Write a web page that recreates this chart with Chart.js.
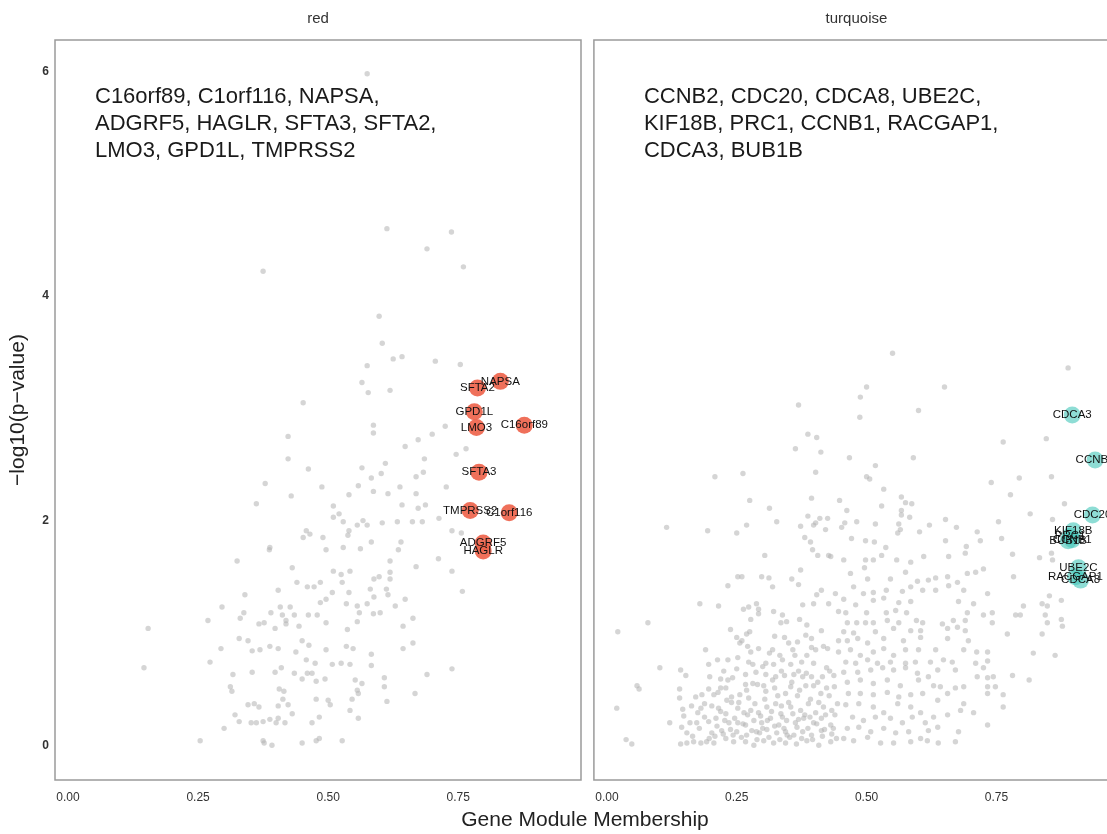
<!DOCTYPE html>
<html>
<head>
<meta charset="utf-8">
<title>Gene module membership vs significance</title>
<script src="https://cdn.jsdelivr.net/npm/chart.js@4.4.1/dist/chart.umd.min.js"></script>
<style>
  html, body { margin: 0; padding: 0; background: #fff; width: 1107px; height: 834px; overflow: hidden; }
  canvas { position: absolute; top: 0; }
  #redPanel { left: 0; }
  #turquoisePanel { left: 585px; }
  #xTitle {
    position: absolute; left: 385px; width: 400px; top: 807px;
    text-align: center; font: 21px "Liberation Sans", Arial, sans-serif; color: #222;
  }
</style>
</head>
<body>
<canvas id="redPanel" width="590" height="834"></canvas>
<canvas id="turquoisePanel" width="545" height="834"></canvas>
<div id="xTitle">Gene Module Membership</div>

<script>
// Shared facet scales
const mmRange = [-0.025, 0.986];
const logPRange = [-0.31, 6.28];
const mmTicks = [0, 0.25, 0.5, 0.75];
const mmTickLabels = ['0.00', '0.25', '0.50', '0.75'];
const logPTicks = [0, 2, 4, 6];
const logPTickLabels = ['0', '2', '4', '6'];

// red module: top hub genes
const redGenes = ['NAPSA', 'SFTA2', 'GPD1L', 'LMO3', 'C16orf89', 'SFTA3', 'TMPRSS2', 'C1orf116', 'ADGRF5', 'HAGLR'];
const redGeneMM = [0.831, 0.787, 0.781, 0.785, 0.877, 0.790, 0.773, 0.848, 0.798, 0.798];
const redGeneLogP = [3.24, 3.18, 2.97, 2.83, 2.85, 2.43, 2.09, 2.07, 1.80, 1.73];
const redNote = ['C16orf89, C1orf116, NAPSA,', 'ADGRF5, HAGLR, SFTA3, SFTA2,', 'LMO3, GPD1L, TMPRSS2'];

// turquoise module: top hub genes
const turqGenes = ['CDCA3', 'CCNB2', 'CDC20', 'KIF18B', 'PRC1', 'CCNB1', 'BUB1B', 'UBE2C', 'RACGAP1', 'CDCA8'];
const turqGeneMM = [0.896, 0.940, 0.935, 0.898, 0.892, 0.896, 0.888, 0.908, 0.902, 0.912];
const turqGeneLogP = [2.94, 2.54, 2.05, 1.91, 1.86, 1.83, 1.82, 1.58, 1.50, 1.47];
const turqNote = ['CCNB2, CDC20, CDCA8, UBE2C,', 'KIF18B, PRC1, CCNB1, RACGAP1,', 'CDCA3, BUB1B'];

// remaining genes of each module [membership, -log10 p]
const redOther = [
  [0.575,5.98],[0.613,4.60],[0.737,4.57],[0.690,4.42],[0.760,4.26],[0.375,4.22],[0.598,3.82],[0.604,3.58],
  [0.625,3.44],[0.642,3.46],[0.575,3.38],[0.706,3.42],[0.754,3.39],[0.565,3.23],[0.619,3.16],[0.577,3.14],
  [0.452,3.05],[0.587,2.85],[0.587,2.78],[0.725,2.84],[0.700,2.77],[0.673,2.72],[0.648,2.66],[0.685,2.55],
  [0.746,2.59],[0.765,2.64],[0.610,2.51],[0.565,2.47],[0.462,2.46],[0.602,2.42],[0.583,2.38],[0.683,2.43],
  [0.669,2.39],[0.423,2.75],[0.423,2.55],[0.379,2.33],[0.429,2.22],[0.362,2.15],[0.388,1.76],[0.387,1.74],
  [0.325,1.64],[0.431,1.58],[0.440,1.45],[0.404,1.38],[0.340,1.34],[0.296,1.23],[0.408,1.23],[0.427,1.23],
  [0.338,1.18],[0.390,1.18],[0.269,1.11],[0.331,1.13],[0.412,1.16],[0.435,1.16],[0.419,1.11],[0.419,1.08],
  [0.367,1.08],[0.377,1.09],[0.398,1.04],[0.444,1.06],[0.154,1.04],[0.329,0.95],[0.346,0.93],[0.294,0.86],
  [0.354,0.84],[0.369,0.85],[0.388,0.88],[0.404,0.86],[0.438,0.83],[0.273,0.74],[0.146,0.69],[0.317,0.63],
  [0.354,0.65],[0.398,0.65],[0.410,0.69],[0.435,0.64],[0.312,0.52],[0.315,0.48],[0.406,0.50],[0.415,0.48],
  [0.413,0.41],[0.346,0.36],[0.358,0.37],[0.367,0.34],[0.404,0.35],[0.423,0.36],[0.431,0.28],[0.321,0.27],
  [0.329,0.21],[0.352,0.20],[0.362,0.20],[0.375,0.21],[0.388,0.23],[0.400,0.20],[0.404,0.24],[0.417,0.20],
  [0.300,0.15],[0.254,0.04],[0.375,0.04],[0.377,0.02],[0.392,0.00],[0.450,0.59],[0.458,1.91],[0.465,1.88],
  [0.488,2.30],[0.540,2.23],[0.558,2.31],[0.587,2.26],[0.615,2.24],[0.638,2.30],[0.669,2.24],[0.727,2.30],
  [0.510,2.13],[0.521,2.06],[0.510,2.03],[0.529,1.99],[0.540,1.91],[0.538,1.87],[0.556,1.96],[0.567,2.00],
  [0.575,1.96],[0.604,1.98],[0.633,1.99],[0.662,1.99],[0.681,1.99],[0.642,2.14],[0.673,2.11],[0.687,2.14],
  [0.713,2.02],[0.738,1.91],[0.756,1.89],[0.452,1.85],[0.490,1.85],[0.583,1.81],[0.640,1.81],[0.496,1.74],
  [0.529,1.76],[0.562,1.75],[0.635,1.74],[0.712,1.66],[0.619,1.64],[0.669,1.59],[0.738,1.55],[0.510,1.55],
  [0.525,1.52],[0.542,1.55],[0.619,1.54],[0.460,1.41],[0.473,1.41],[0.485,1.45],[0.527,1.45],[0.588,1.48],
  [0.598,1.50],[0.619,1.48],[0.581,1.39],[0.612,1.39],[0.615,1.34],[0.588,1.32],[0.508,1.36],[0.540,1.36],
  [0.648,1.30],[0.758,1.37],[0.485,1.27],[0.496,1.30],[0.535,1.26],[0.556,1.24],[0.575,1.26],[0.629,1.24],
  [0.587,1.17],[0.600,1.18],[0.560,1.18],[0.462,1.16],[0.479,1.16],[0.496,1.09],[0.556,1.10],[0.537,1.03],
  [0.644,1.06],[0.663,1.13],[0.450,0.93],[0.463,0.89],[0.496,0.85],[0.535,0.88],[0.548,0.86],[0.583,0.81],
  [0.644,0.86],[0.663,0.91],[0.458,0.76],[0.475,0.73],[0.508,0.72],[0.525,0.73],[0.542,0.72],[0.583,0.71],
  [0.460,0.64],[0.469,0.64],[0.477,0.57],[0.494,0.59],[0.552,0.58],[0.565,0.55],[0.608,0.60],[0.690,0.63],
  [0.738,0.68],[0.556,0.49],[0.558,0.46],[0.608,0.52],[0.667,0.46],[0.477,0.41],[0.500,0.40],[0.504,0.36],
  [0.546,0.41],[0.613,0.39],[0.542,0.31],[0.558,0.24],[0.483,0.25],[0.469,0.20],[0.450,0.02],[0.477,0.04],
  [0.483,0.06],[0.527,0.04]
];

const turqOther = [
  [0.369,3.03],[0.387,2.77],[0.404,2.74],[0.363,2.64],[0.412,2.61],[0.208,2.39],[0.262,2.42],[0.402,2.43],
  [0.394,2.20],[0.275,2.18],[0.448,2.18],[0.313,2.11],[0.387,2.04],[0.410,2.02],[0.425,2.02],[0.327,1.99],
  [0.115,1.94],[0.194,1.91],[0.250,1.89],[0.269,1.96],[0.373,1.95],[0.398,1.96],[0.402,1.98],[0.421,1.92],
  [0.452,1.94],[0.381,1.85],[0.392,1.81],[0.396,1.74],[0.406,1.69],[0.427,1.69],[0.431,1.68],[0.304,1.69],
  [0.373,1.56],[0.252,1.50],[0.260,1.50],[0.298,1.50],[0.312,1.49],[0.356,1.48],
  [0.233,1.42],[0.319,1.41],[0.369,1.43],[0.413,1.38],[0.404,1.34],[0.440,1.35],[0.179,1.26],[0.215,1.24],
  [0.263,1.21],[0.273,1.23],[0.288,1.26],[0.292,1.21],[0.321,1.19],[0.377,1.25],[0.398,1.26],[0.427,1.26],
  [0.446,1.19],[0.079,1.09],[0.021,1.01],[0.277,1.12],[0.292,1.17],[0.338,1.16],[0.346,1.10],[0.335,1.09],
  [0.371,1.12],[0.385,1.07],[0.413,1.02],[0.238,1.03],[0.250,0.96],[0.260,0.93],[0.269,0.99],[0.275,1.01],
  [0.256,0.91],[0.323,0.97],[0.342,0.96],[0.367,0.92],[0.383,0.98],[0.394,0.95],[0.394,0.87],[0.402,0.85],
  [0.417,0.88],[0.425,0.86],[0.446,0.93],[0.277,0.83],[0.292,0.86],[0.319,0.85],[0.333,0.80],[0.358,0.85],
  [0.362,0.80],[0.385,0.80],[0.446,0.83],[0.213,0.76],[0.233,0.76],[0.252,0.78],[0.273,0.74],[0.306,0.73],
  [0.321,0.72],[0.338,0.76],[0.354,0.72],[0.375,0.74],[0.398,0.73],[0.423,0.69],[0.102,0.69],[0.142,0.67],
  [0.152,0.62],[0.198,0.61],[0.219,0.59],[0.233,0.58],[0.242,0.60],[0.267,0.63],[0.287,0.65],[0.306,0.63],
  [0.325,0.61],[0.342,0.62],[0.360,0.63],[0.369,0.66],[0.377,0.61],[0.394,0.61],[0.415,0.61],[0.437,0.62],
  [0.058,0.53],[0.062,0.50],[0.140,0.50],[0.171,0.43],[0.183,0.45],[0.196,0.50],[0.206,0.45],[0.219,0.51],
  [0.229,0.51],[0.240,0.43],[0.267,0.54],[0.269,0.49],[0.290,0.54],[0.302,0.53],[0.306,0.48],[0.323,0.51],
  [0.344,0.46],[0.354,0.52],[0.367,0.44],[0.383,0.53],[0.398,0.53],[0.412,0.46],[0.423,0.51],[0.438,0.52],
  [0.019,0.33],[0.140,0.42],[0.146,0.32],[0.163,0.35],[0.181,0.33],[0.202,0.35],[0.215,0.33],[0.229,0.28],
  [0.240,0.38],[0.254,0.38],[0.273,0.42],[0.277,0.31],[0.292,0.29],[0.308,0.34],[0.325,0.37],[0.335,0.28],
  [0.354,0.34],[0.373,0.31],[0.388,0.37],[0.402,0.29],[0.417,0.34],[0.433,0.31],[0.121,0.20],[0.148,0.26],
  [0.173,0.20],[0.196,0.21],[0.210,0.24],[0.235,0.20],[0.252,0.20],[0.267,0.18],[0.283,0.22],[0.298,0.20],
  [0.315,0.24],[0.331,0.18],[0.346,0.22],[0.363,0.20],[0.379,0.24],[0.398,0.20],[0.413,0.24],[0.431,0.18],
  [0.144,0.16],[0.202,0.11],[0.221,0.13],[0.250,0.12],[0.269,0.09],[0.288,0.12],[0.308,0.14],[0.327,0.11],
  [0.344,0.12],[0.360,0.09],[0.377,0.12],[0.394,0.09],[0.413,0.13],[0.433,0.10],[0.037,0.05],[0.048,0.01],
  [0.142,0.01],[0.154,0.02],[0.167,0.03],[0.181,0.02],[0.192,0.03],[0.206,0.02],[0.229,0.06],[0.244,0.03],
  [0.267,0.03],[0.283,0.00],[0.302,0.04],[0.321,0.02],[0.344,0.02],[0.365,0.01],[0.385,0.04],[0.408,0.00],
  [0.431,0.03],
  [0.165,0.08],[0.178,0.15],[0.188,0.25],[0.197,0.06],[0.212,0.17],[0.219,0.30],[0.224,0.10],[0.231,0.40],
  [0.238,0.14],[0.246,0.24],[0.252,0.33],[0.259,0.07],[0.262,0.19],[0.271,0.27],[0.279,0.13],[0.285,0.37],
  [0.289,0.05],[0.296,0.26],[0.300,0.15],[0.304,0.41],[0.312,0.07],[0.317,0.30],[0.323,0.17],[0.329,0.44],
  [0.333,0.05],[0.338,0.25],[0.341,0.15],[0.350,0.38],[0.352,0.07],[0.358,0.28],[0.366,0.16],[0.371,0.49],
  [0.375,0.06],[0.381,0.27],[0.387,0.15],[0.392,0.41],[0.396,0.05],[0.404,0.19],[0.408,0.38],[0.415,0.08],
  [0.421,0.27],[0.428,0.44],[0.436,0.15],[0.442,0.06],[0.444,0.37],[0.208,0.08],[0.227,0.22],[0.243,0.09],
  [0.256,0.45],[0.264,0.29],[0.281,0.55],[0.294,0.11],[0.309,0.22],[0.319,0.58],[0.336,0.35],[0.347,0.09],
  [0.356,0.56],[0.369,0.23],[0.384,0.64],[0.391,0.25],[0.406,0.56],[0.419,0.14],[0.429,0.66],[0.439,0.27],
  [0.188,0.37],[0.175,0.29],[0.160,0.20],[0.154,0.11],[0.214,0.47],[0.250,0.68],[0.281,0.72],[0.313,0.82],
  [0.350,0.91],[0.300,0.70],[0.336,0.66],[0.271,0.88],[0.225,0.66],[0.196,0.72],[0.190,0.85],
  [0.550,3.49],[0.888,3.36],[0.500,3.19],[0.488,3.10],[0.650,3.19],[0.600,2.98],[0.487,2.92],[0.763,2.70],
  [0.846,2.73],[0.467,2.56],[0.590,2.56],[0.517,2.49],[0.500,2.39],[0.506,2.37],[0.740,2.34],[0.794,2.38],
  [0.856,2.39],[0.533,2.28],[0.777,2.23],[0.567,2.21],[0.575,2.16],[0.587,2.15],[0.529,2.13],[0.462,2.09],
  [0.567,2.09],[0.881,2.15],[0.815,2.06],[0.567,2.05],[0.583,2.03],[0.652,2.01],[0.481,1.99],[0.458,1.98],
  [0.517,1.97],[0.562,1.97],[0.565,1.92],[0.621,1.96],[0.673,1.94],[0.754,1.99],[0.858,2.01],[0.560,1.89],
  [0.602,1.90],[0.713,1.90],[0.760,1.84],[0.471,1.84],[0.498,1.82],[0.515,1.81],[0.652,1.82],[0.719,1.82],
  [0.692,1.77],[0.537,1.76],[0.456,1.65],[0.498,1.65],[0.513,1.65],[0.529,1.69],[0.558,1.65],[0.585,1.63],
  [0.610,1.68],[0.658,1.68],[0.690,1.71],[0.781,1.70],[0.833,1.67],[0.856,1.71],[0.858,1.65],[0.496,1.58],
  [0.725,1.57],
  [0.469,1.53],[0.502,1.48],[0.546,1.48],[0.575,1.54],[0.598,1.46],[0.619,1.47],[0.633,1.49],[0.656,1.50],
  [0.675,1.45],[0.694,1.53],[0.710,1.54],[0.783,1.50],[0.475,1.41],[0.494,1.35],[0.513,1.36],[0.538,1.38],
  [0.569,1.37],[0.585,1.41],[0.608,1.38],[0.633,1.38],[0.658,1.42],[0.687,1.38],[0.733,1.35],[0.852,1.33],
  [0.875,1.29],[0.456,1.30],[0.479,1.25],[0.513,1.29],[0.533,1.31],[0.562,1.27],[0.585,1.28],[0.677,1.28],
  [0.706,1.26],[0.802,1.24],[0.838,1.26],[0.848,1.24],[0.460,1.18],[0.500,1.18],[0.538,1.18],[0.556,1.20],
  [0.577,1.18],[0.694,1.18],[0.725,1.16],[0.742,1.18],[0.787,1.16],[0.796,1.16],[0.844,1.16],[0.875,1.12],
  [0.463,1.09],[0.481,1.09],[0.498,1.09],[0.513,1.09],[0.540,1.11],[0.562,1.09],[0.596,1.11],[0.608,1.09],
  [0.646,1.08],[0.667,1.11],[0.690,1.11],[0.742,1.09],[0.848,1.09],[0.877,1.06],[0.456,1.01],[0.475,1.00],
  [0.517,1.01],[0.552,1.04],[0.585,1.02],[0.604,1.02],[0.656,1.04],[0.675,1.05],[0.690,1.02],[0.771,0.99],
  [0.838,0.99],[0.463,0.93],[0.483,0.95],[0.502,0.91],[0.533,0.95],[0.571,0.93],[0.604,0.96],[0.656,0.95],
  [0.696,0.93],[0.469,0.85],[0.488,0.80],[0.513,0.83],[0.533,0.86],[0.552,0.80],[0.575,0.85],[0.600,0.85],
  [0.633,0.85],[0.648,0.76],[0.665,0.74],[0.687,0.85],[0.712,0.83],[0.733,0.83],[0.821,0.82],[0.863,0.80],
  [0.460,0.74],[0.479,0.73],[0.502,0.76],[0.521,0.73],[0.546,0.74],[0.575,0.73],[0.594,0.74],[0.623,0.74],
  [0.710,0.73],[0.725,0.69],[0.733,0.75],[0.456,0.65],[0.483,0.65],[0.508,0.67],[0.531,0.69],[0.552,0.67],
  [0.575,0.69],[0.598,0.64],[0.619,0.61],[0.637,0.67],[0.671,0.67],[0.713,0.61],[0.733,0.60],[0.744,0.61],
  [0.781,0.62],[0.813,0.58],[0.463,0.56],[0.488,0.58],[0.513,0.55],[0.540,0.58],[0.565,0.53],[0.600,0.58],
  [0.629,0.53],[0.642,0.52],[0.671,0.51],[0.687,0.52],[0.733,0.52],[0.748,0.52],[0.465,0.46],[0.488,0.46],
  [0.513,0.45],[0.540,0.47],[0.562,0.43],[0.585,0.45],[0.608,0.46],[0.637,0.40],[0.656,0.46],[0.687,0.37],
  [0.733,0.46],[0.763,0.45],[0.460,0.36],[0.485,0.37],[0.513,0.34],[0.533,0.29],[0.560,0.37],[0.585,0.34],
  [0.604,0.29],[0.629,0.25],[0.656,0.27],[0.681,0.31],[0.706,0.29],[0.763,0.34],[0.473,0.25],[0.494,0.22],
  [0.517,0.25],[0.546,0.24],[0.569,0.20],[0.588,0.25],[0.613,0.20],[0.637,0.16],[0.733,0.18],[0.463,0.15],
  [0.485,0.16],[0.508,0.12],[0.533,0.15],[0.556,0.11],[0.581,0.12],[0.604,0.06],[0.619,0.13],[0.677,0.12],
  [0.456,0.06],[0.475,0.04],[0.502,0.07],[0.527,0.02],[0.552,0.02],[0.585,0.03],[0.617,0.04],[0.638,0.02],
  [0.671,0.03]
];

const pointsOf = pairs => pairs.map(([x, y]) => ({ x, y }));
const zipPoints = (xs, ys) => xs.map((x, i) => ({ x, y: ys[i] }));

const fontFamily = '"Liberation Sans", Arial, Helvetica, sans-serif';

// frame, strip label, gene list and point labels for one facet
const facetDecor = {
  id: 'facetDecor',
  afterDatasetsDraw(chart, args, opts) {
    const { ctx, chartArea: a } = chart;
    ctx.save();
    ctx.strokeStyle = '#9a9a9a';
    ctx.lineWidth = 1.5;
    ctx.strokeRect(a.left, a.top, a.right - a.left, a.bottom - a.top);

    ctx.fillStyle = '#333';
    ctx.font = '15px ' + fontFamily;
    ctx.textAlign = 'center';
    ctx.textBaseline = 'middle';
    ctx.fillText(opts.strip, (a.left + a.right) / 2, a.top - 21);

    ctx.fillStyle = '#111';
    ctx.font = '11.5px ' + fontFamily;
    chart.getDatasetMeta(1).data.forEach((pt, i) => {
      ctx.fillText(opts.labels[i], pt.x, pt.y);
    });

    ctx.fillStyle = '#1a1a1a';
    ctx.font = '22px ' + fontFamily;
    ctx.textAlign = 'left';
    opts.note.forEach((line, i) => {
      ctx.fillText(line, a.left + opts.noteOffset, a.top + 57 + i * 27);
    });
    ctx.restore();
  }
};

function facetChart(canvasId, cfg) {
  return new Chart(document.getElementById(canvasId), {
    type: 'scatter',
    data: {
      datasets: [{
        data: pointsOf(cfg.other),
        pointRadius: 2.7,
        pointBackgroundColor: 'rgba(178, 178, 178, 0.55)',
        pointBorderWidth: 0,
      }, {
        data: zipPoints(cfg.mm, cfg.logP),
        pointRadius: 8.5,
        pointBackgroundColor: cfg.colour,
        pointBorderWidth: 0,
      }]
    },
    plugins: [facetDecor],
    options: {
      responsive: false,
      animation: false,
      events: [],
      layout: { padding: cfg.padding },
      plugins: {
        legend: { display: false },
        tooltip: { enabled: false },
        facetDecor: { strip: cfg.strip, labels: cfg.genes, note: cfg.note, noteOffset: cfg.noteOffset }
      },
      scales: {
        x: {
          type: 'linear',
          min: mmRange[0],
          max: mmRange[1],
          afterBuildTicks: s => { s.ticks = mmTicks.map(v => ({ value: v })); },
          afterFit: s => { s.height = 54; },
          ticks: {
            padding: 10,
            color: '#333',
            font: { family: fontFamily, size: 12 },
            maxRotation: 0,
            callback: (v, i) => mmTickLabels[i]
          },
          grid: { display: false, drawTicks: false },
          border: { display: false }
        },
        y: {
          type: 'linear',
          display: cfg.showY,
          min: logPRange[0],
          max: logPRange[1],
          afterBuildTicks: s => { s.ticks = logPTicks.map(v => ({ value: v })); },
          afterFit: s => { s.width = cfg.showY ? 55 : 0; },
          ticks: {
            padding: 6,
            color: '#333',
            font: { family: fontFamily, size: 12, weight: 'bold' },
            callback: (v, i) => logPTickLabels[i]
          },
          title: {
            display: true,
            text: '\u2212log10(p\u2212value)',
            color: '#222',
            font: { family: fontFamily, size: 21 },
            padding: { top: 6, bottom: 0 }
          },
          grid: { display: false, drawTicks: false },
          border: { display: false }
        }
      }
    }
  });
}

facetChart('redPanel', {
  strip: 'red',
  other: redOther,
  mm: redGeneMM,
  logP: redGeneLogP,
  genes: redGenes,
  note: redNote,
  noteOffset: 40,
  colour: 'rgba(238, 100, 76, 0.92)',
  showY: true,
  padding: { top: 40, right: 9, left: 0, bottom: 0 }
});

facetChart('turquoisePanel', {
  strip: 'turquoise',
  other: turqOther,
  mm: turqGeneMM,
  logP: turqGeneLogP,
  genes: turqGenes,
  note: turqNote,
  noteOffset: 50,
  colour: 'rgba(72, 200, 188, 0.62)',
  showY: false,
  padding: { top: 40, right: 11, left: 8, bottom: 0 }
});
</script>
</body>
</html>
